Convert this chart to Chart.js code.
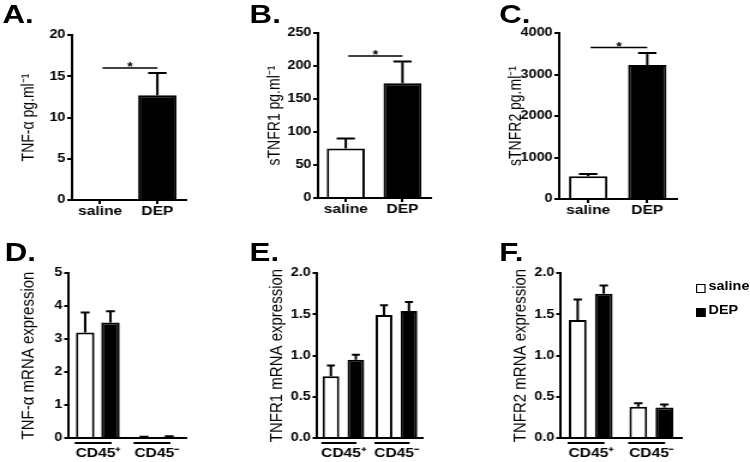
<!DOCTYPE html>
<html lang="en">
<head>
  <meta charset="UTF-8">
  <title>TNF and TNF receptors after DEP</title>
  <style>
    body {
      margin: 0;
      background: #fff;
      overflow: hidden;
    }
    /* the original figure is stretched sideways, so the whole thing is drawn narrow and scaled */
    #fig {
      position: relative;
      width: 625px;
      height: 462px;
      transform: scaleX(1.2);
      transform-origin: 0 0;
      font-family: "Liberation Sans", Arial, sans-serif;
      color: #000;
    }
    #fig canvas {
      position: absolute;
    }
    .letter {
      position: absolute;
      font-size: 26px;
      font-weight: bold;
      line-height: 1;
    }
    #legend {
      position: absolute;
      left: 580px;
      top: 280px;
      font-size: 12px;
      font-weight: bold;
      line-height: 1;
    }
    #legend div {
      height: 24px;
      white-space: nowrap;
    }
    #legend span.box {
      display: inline-block;
      box-sizing: border-box;
      width: 7.5px;
      height: 9px;
      border: 1px solid #000;
      margin-right: 3px;
      vertical-align: -3px;
    }
  </style>
  <script src="https://cdn.jsdelivr.net/npm/chart.js"></script>
</head>
<body>
  <div id="fig">
    <div class="letter" style="left:2px;top:1px">A.</div>
    <div class="letter" style="left:208px;top:1px">B.</div>
    <div class="letter" style="left:416px;top:1px">C.</div>
    <div class="letter" style="left:4px;top:239px">D.</div>
    <div class="letter" style="left:208px;top:239px">E.</div>
    <div class="letter" style="left:416px;top:239px">F.</div>

    <canvas id="chartA"></canvas>
    <canvas id="chartB"></canvas>
    <canvas id="chartC"></canvas>
    <canvas id="chartD"></canvas>
    <canvas id="chartE"></canvas>
    <canvas id="chartF"></canvas>

    <div id="legend"></div>
  </div>

  <script>
    // ---- data ----
    const series = ['saline', 'DEP'];
    const seriesColors = ['#ffffff', '#000000'];

    // A-C: protein, saline vs DEP
    const tnfProtein = [0, 12.7];
    const tnfProteinErr = [0, 2.7];
    const stnfr1 = [75, 174];
    const stnfr1Err = [15, 33];
    const stnfr2 = [550, 3230];
    const stnfr2Err = [50, 290];
    // height of the significance bar (*)
    const sigA = 16;
    const sigB = 215;
    const sigC = 3650;

    // D-F: mRNA by cell fraction
    const cells = ['CD45⁺', 'CD45⁻'];
    const tnfMrnaSaline = [3.2, 0.03];
    const tnfMrnaSalineErr = [0.6, 0.01];
    const tnfMrnaDep = [3.5, 0.04];
    const tnfMrnaDepErr = [0.34, 0.01];
    const tnfr1MrnaSaline = [0.75, 1.49];
    const tnfr1MrnaSalineErr = [0.13, 0.12];
    const tnfr1MrnaDep = [0.95, 1.54];
    const tnfr1MrnaDepErr = [0.06, 0.11];
    const tnfr2MrnaSaline = [1.43, 0.38];
    const tnfr2MrnaSalineErr = [0.25, 0.04];
    const tnfr2MrnaDep = [1.75, 0.37];
    const tnfr2MrnaDepErr = [0.1, 0.035];

    // y axis ranges [max, step, decimals]
    const yA = [20, 5, 0];
    const yB = [250, 50, 0];
    const yC = [4000, 1000, 0];
    const yD = [5, 1, 0];
    const yE = [2, 0.5, 1];
    const yF = [2, 0.5, 1];

    Chart.defaults.font.family = '"Liberation Sans", Arial, sans-serif';
    Chart.defaults.color = '#000';

    // upward-only error bars with a cap
    const errorBars = {
      id: 'errorBars',
      afterDatasetsDraw(chart) {
        const ctx = chart.ctx;
        const y = chart.scales.y;
        ctx.save();
        ctx.strokeStyle = '#000';
        ctx.lineWidth = 2;
        chart.data.datasets.forEach((ds, i) => {
          if (!ds.err) return;
          chart.getDatasetMeta(i).data.forEach((bar, j) => {
            if (!ds.err[j]) return;
            const top = y.getPixelForValue(ds.data[j] + ds.err[j]);
            const half = bar.width * 0.24;
            ctx.beginPath();
            ctx.moveTo(bar.x, bar.y);
            ctx.lineTo(bar.x, top);
            ctx.moveTo(bar.x - half, top);
            ctx.lineTo(bar.x + half, top);
            ctx.stroke();
          });
        });
        ctx.restore();
      }
    };

    // significance line between the two groups
    const sigLine = {
      id: 'sigLine',
      afterDatasetsDraw(chart, args, opts) {
        if (opts.value == null) return;
        const ctx = chart.ctx;
        const x0 = chart.scales.x.getPixelForValue(0) + 2;
        const x1 = chart.scales.x.getPixelForValue(1);
        const yy = chart.scales.y.getPixelForValue(opts.value);
        ctx.save();
        ctx.strokeStyle = '#000';
        ctx.lineWidth = 1.5;
        ctx.beginPath();
        ctx.moveTo(x0, yy);
        ctx.lineTo(x1, yy);
        ctx.stroke();
        ctx.fillStyle = '#000';
        ctx.font = 'bold 12px "Liberation Sans", Arial, sans-serif';
        ctx.textAlign = 'center';
        ctx.textBaseline = 'alphabetic';
        ctx.fillText('*', (x0 + x1) / 2, yy + 3);
        ctx.restore();
      }
    };

    // short lines under each group of bars (D-F)
    const groupLines = {
      id: 'groupLines',
      afterDraw(chart, args, opts) {
        if (!opts.show) return;
        const ctx = chart.ctx;
        const first = chart.getDatasetMeta(0).data;
        const last = chart.getDatasetMeta(1).data;
        const yy = chart.chartArea.bottom + 5;
        ctx.save();
        ctx.strokeStyle = '#000';
        ctx.lineWidth = 2;
        first.forEach((b, j) => {
          const l = b.x - b.width / 2 - 1;
          const r = last[j].x + last[j].width / 2;
          ctx.beginPath();
          ctx.moveTo(l, yy);
          ctx.lineTo(l + (r - l) * 0.82, yy);
          ctx.stroke();
        });
        ctx.restore();
      }
    };

    const PT = 14;   // room above the plot
    const PR = 4;

    function makePanel(id, box, labels, datasets, yRange, yTitle, grouped, sig) {
      const canvas = document.getElementById(id);
      const W = Math.round(box.yw + (box.end - box.axis) + PR);
      const H = Math.round(PT + (box.bottom - box.top) + box.xh);
      canvas.width = W;
      canvas.height = H;
      canvas.style.left = Math.round(box.axis - box.yw) + 'px';
      canvas.style.top = Math.round(box.top - PT) + 'px';

      const xAxis = grouped ? {
        grid: { display: false, drawTicks: false },
        border: { color: '#000', width: 2 },
        ticks: { font: { size: 13, weight: 'bold' }, padding: 8 },
        afterFit: s => { s.height = box.xh; }
      } : {
        grid: { drawOnChartArea: false, offset: false, tickLength: 4, color: '#000', lineWidth: 2 },
        border: { color: '#000', width: 2 },
        ticks: { font: { size: 13, weight: 'bold' }, padding: 0 },
        afterFit: s => { s.height = box.xh; }
      };

      return new Chart(canvas, {
        type: 'bar',
        data: { labels: labels, datasets: datasets },
        options: {
          responsive: false,
          animation: false,
          layout: { padding: { top: PT, right: PR, left: 0, bottom: 0 } },
          datasets: {
            bar: {
              barPercentage: box.barPct,
              categoryPercentage: box.catPct,
              borderColor: '#000',
              borderWidth: 2
            }
          },
          plugins: {
            legend: { display: false },
            tooltip: { enabled: false },
            sigLine: { value: sig },
            groupLines: { show: grouped }
          },
          scales: {
            x: xAxis,
            y: {
              min: 0,
              max: yRange[0],
              ticks: {
                stepSize: yRange[1],
                font: { size: 12, weight: 'bold' },
                padding: 1.5,
                callback: v => Number(v).toFixed(yRange[2])
              },
              grid: { drawOnChartArea: false, tickLength: 3.5, color: '#000', lineWidth: 2 },
              border: { color: '#000', width: 2 },
              title: { display: true, text: yTitle, font: { size: box.titleSize }, padding: 0 },
              afterFit: s => { s.width = box.yw; }
            }
          }
        },
        plugins: [errorBars, sigLine, groupLines]
      });
    }

    function single(values, err) {
      return [{ label: series.join('/'), data: values, err: err, backgroundColor: seriesColors }];
    }

    function pair(a, aErr, b, bErr) {
      return [
        { label: series[0], data: a, err: aErr, backgroundColor: seriesColors[0] },
        { label: series[1], data: b, err: bErr, backgroundColor: seriesColors[1] }
      ];
    }

    makePanel('chartA', { axis: 59, end: 154, top: 35, bottom: 200, yw: 43.5, xh: 30, titleSize: 14, barPct: 0.67, catPct: 1 },
      series, single(tnfProtein, tnfProteinErr), yA, 'TNF-α pg.ml⁻¹', false, sigA);
    makePanel('chartB', { axis: 264, end: 358, top: 33, bottom: 198, yw: 43.5, xh: 30, titleSize: 14, barPct: 0.67, catPct: 1 },
      series, single(stnfr1, stnfr1Err), yB, 'sTNFR1 pg.ml⁻¹', false, sigB);
    makePanel('chartC', { axis: 465, end: 563, top: 33, bottom: 199, yw: 43.5, xh: 30, titleSize: 14, barPct: 0.65, catPct: 1 },
      series, single(stnfr2, stnfr2Err), yC, 'sTNFR2 pg.ml⁻¹', false, sigC);

    makePanel('chartD', { axis: 57, end: 155, top: 273, bottom: 438, yw: 42, xh: 24, titleSize: 15, barPct: 0.73, catPct: 0.86 },
      cells, pair(tnfMrnaSaline, tnfMrnaSalineErr, tnfMrnaDep, tnfMrnaDepErr), yD, 'TNF-α mRNA expression', true, null);
    makePanel('chartE', { axis: 264, end: 354, top: 273, bottom: 438, yw: 42, xh: 24, titleSize: 15, barPct: 0.67, catPct: 0.94 },
      cells, pair(tnfr1MrnaSaline, tnfr1MrnaSalineErr, tnfr1MrnaDep, tnfr1MrnaDepErr), yE, 'TNFR1 mRNA expression', true, null);
    makePanel('chartF', { axis: 467, end: 568, top: 273, bottom: 438, yw: 42, xh: 24, titleSize: 15, barPct: 0.68, catPct: 0.86 },
      cells, pair(tnfr2MrnaSaline, tnfr2MrnaSalineErr, tnfr2MrnaDep, tnfr2MrnaDepErr), yF, 'TNFR2 mRNA expression', true, null);

    // legend for the mRNA panels
    const legend = document.getElementById('legend');
    series.forEach((name, i) => {
      const row = document.createElement('div');
      const box = document.createElement('span');
      box.className = 'box';
      box.style.background = seriesColors[i];
      row.appendChild(box);
      row.appendChild(document.createTextNode(name));
      legend.appendChild(row);
    });
  </script>
</body>
</html>
